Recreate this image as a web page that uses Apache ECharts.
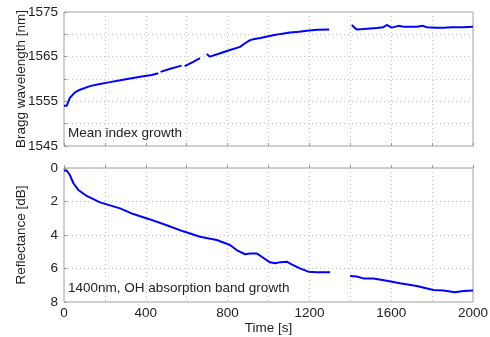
<!DOCTYPE html>
<html>
<head>
<meta charset="utf-8">
<script src="https://cdn.jsdelivr.net/npm/echarts@6/dist/echarts.min.js"></script>
<style>html,body{margin:0;padding:0;background:#fff;}#c{width:490px;height:337px;}</style>
</head>
<body>
<div id="c"></div>
<script>
// Top panel: Bragg wavelength [nm] vs time [s]
const braggTime = [0,13,29,54,78,127,175,225,275,323,388,430,461,466,472,520,575,583,590,630,665,680,698,714,760,812,861,885,910,926,960,1023,1060,1105,1150,1187,1240,1297,1350,1407,1431,1465,1497,1530,1562,1578,1603,1636,1660,1700,1725,1755,1775,1820,1855,1900,1950,2000];
const braggValue = [1554.0,1554.0,1555.8,1557.0,1557.6,1558.4,1558.9,1559.3,1559.7,1560.1,1560.6,1560.9,1561.3,null,1561.6,1562.3,1563.0,null,1562.9,1563.8,1564.7,null,1565.6,1565.0,1565.7,1566.5,1567.2,1568.0,1568.7,1568.9,1569.2,1569.8,1570.1,1570.4,1570.6,1570.8,1571.0,1571.1,null,1572.1,1571.1,1571.2,1571.3,1571.4,1571.6,1572.1,1571.5,1571.9,1571.7,1571.7,1571.7,1571.9,1571.6,1571.5,1571.5,1571.6,1571.6,1571.7];
// Bottom panel: Reflectance [dB] vs time [s]
const reflTime = [0,13,29,46,70,111,176,274,339,421,502,583,665,747,812,844,885,910,942,967,1007,1032,1060,1089,1113,1154,1195,1235,1301,1350,1399,1431,1464,1513,1578,1643,1725,1806,1855,1912,1953,2000];
const reflValue = [0.15,0.15,0.42,0.91,1.31,1.67,2.05,2.41,2.75,3.07,3.42,3.78,4.1,4.3,4.6,4.9,5.15,5.1,5.1,5.3,5.63,5.69,5.62,5.59,5.75,5.99,6.19,6.23,6.23,null,6.45,6.48,6.59,6.6,6.73,6.88,7.04,7.28,7.32,7.42,7.34,7.32];
const xTickLabels = [0,400,800,1200,1600,2000];
const braggTickLabels = [1545,1555,1565,1575];
const reflTickLabels = [0,2,4,6,8];

const FONT = "'Liberation Sans', Arial, sans-serif";
const FS = 13.5;
const pair = (ts, vs) => ts.map((t, i) => [t, vs[i]]);

const chart = echarts.init(document.getElementById('c'), null, {renderer: 'canvas'});
const gridLine = {show: true, lineStyle: {color: '#c8c8c8', type: [1, 3], width: 1}};
const tick = {show: true, inside: true, length: 3, lineStyle: {color: '#999'}};
const label = {color: '#222', fontSize: FS, fontFamily: FONT};
const nameStyle = {color: '#222', fontSize: FS, fontFamily: FONT};

chart.setOption({
  animation: false,
  backgroundColor: '#fff',
  grid: [
    {left: 64, right: 17, top: 12, height: 134, show: true, borderColor: '#a0a0a0', borderWidth: 1, containLabel: false, outerBoundsMode: 'none'},
    {left: 64, right: 17, top: 168, height: 134, show: true, borderColor: '#a0a0a0', borderWidth: 1, containLabel: false, outerBoundsMode: 'none'}
  ],
  xAxis: [
    {type: 'value', gridIndex: 0, min: 0, max: 2000, interval: 200,
     axisLine: {show: false}, axisTick: tick, splitLine: gridLine, axisLabel: {show: false}},
    {type: 'value', gridIndex: 1, min: 0, max: 2000, interval: 200,
     axisLine: {show: false}, axisTick: tick, splitLine: gridLine,
     axisLabel: Object.assign({margin: 4, formatter: v => xTickLabels.includes(v) ? String(v) : ''}, label),
     name: 'Time [s]', nameLocation: 'middle', nameGap: 19, nameMoveOverlap: false, nameTextStyle: nameStyle}
  ],
  yAxis: [
    {type: 'value', gridIndex: 0, min: 1545, max: 1575, interval: 5,
     axisLine: {show: false}, axisTick: tick, splitLine: gridLine,
     axisLabel: Object.assign({margin: 6, formatter: v => braggTickLabels.includes(v) ? String(v) : ''}, label),
     name: 'Bragg wavelength [nm]', nameLocation: 'middle', nameGap: 36, nameRotate: 90, nameMoveOverlap: false, nameTextStyle: nameStyle},
    {type: 'value', gridIndex: 1, min: 0, max: 8, interval: 2, inverse: true,
     axisLine: {show: false}, axisTick: tick, splitLine: gridLine,
     axisLabel: Object.assign({margin: 6, formatter: v => reflTickLabels.includes(v) ? String(v) : ''}, label),
     name: 'Reflectance [dB]', nameLocation: 'middle', nameGap: 36, nameRotate: 90, nameMoveOverlap: false, nameTextStyle: nameStyle}
  ],
  graphic: [
    {type: 'text', left: 68, top: 126, style: {text: 'Mean index growth', fill: '#222', font: FS + 'px ' + FONT}},
    {type: 'text', left: 68, top: 281, style: {text: '1400nm, OH absorption band growth', fill: '#222', font: FS + 'px ' + FONT}}
  ],
  series: [
    {type: 'line', xAxisIndex: 0, yAxisIndex: 0, data: pair(braggTime, braggValue), showSymbol: false,
     connectNulls: false, lineStyle: {color: '#0000ff', width: 2}, itemStyle: {color: '#0000ff'}},
    {type: 'line', xAxisIndex: 1, yAxisIndex: 1, data: pair(reflTime, reflValue), showSymbol: false,
     connectNulls: false, lineStyle: {color: '#0000ff', width: 2}, itemStyle: {color: '#0000ff'}}
  ]
});
</script>
</body>
</html>
